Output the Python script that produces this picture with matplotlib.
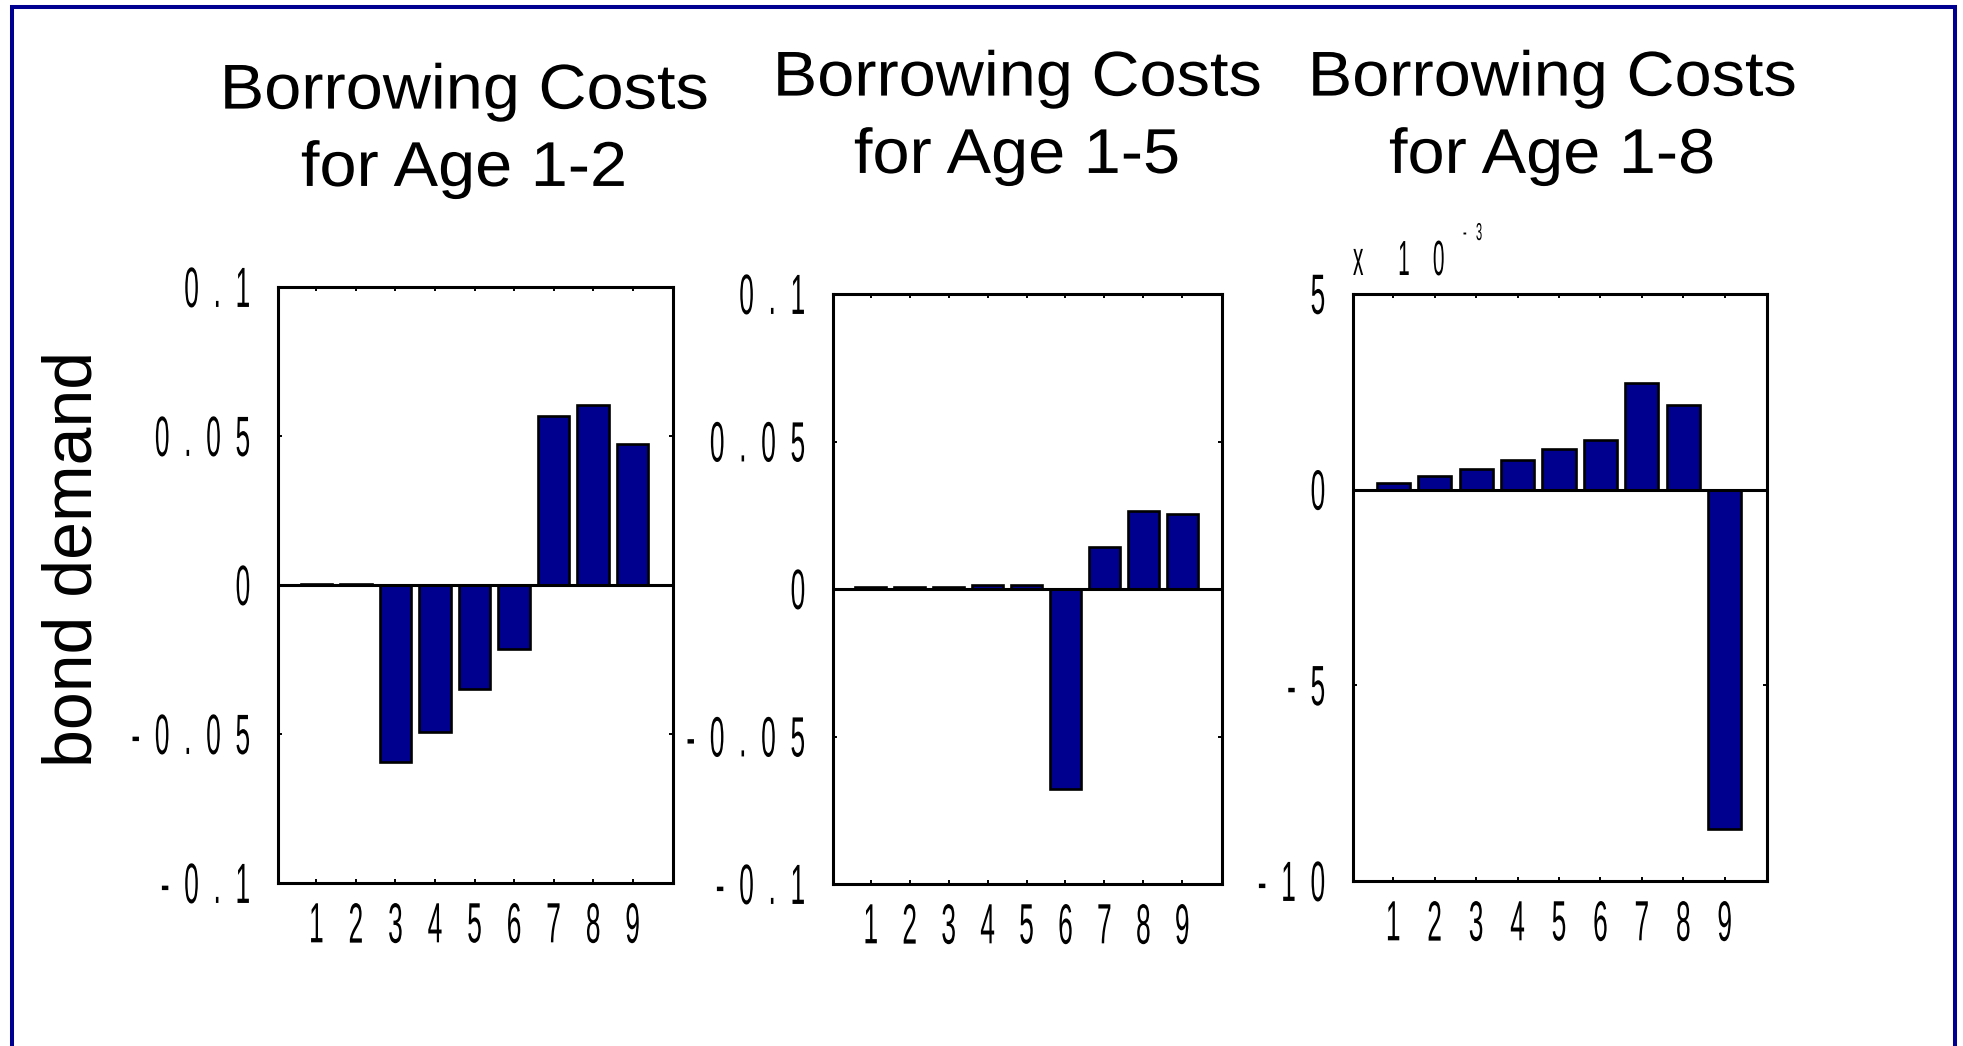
import matplotlib
matplotlib.use("Agg")
import matplotlib.pyplot as plt
from matplotlib.patches import Rectangle
from matplotlib.patheffects import AbstractPathEffect
from matplotlib.transforms import Affine2D

# bond demand response by age, one panel per borrowing-cost scenario
ages = [1, 2, 3, 4, 5, 6, 7, 8, 9]
age_labels = ["1", "2", "3", "4", "5", "6", "7", "8", "9"]

demand_age12 = [0.0002, 0.0002, -0.0595, -0.0493, -0.0349, -0.0215, 0.0567, 0.0604, 0.0473]
demand_age15 = [0.0007, 0.0007, 0.0007, 0.0015, 0.0015, -0.0678, 0.0142, 0.0264, 0.0254]
demand_age18 = [0.00017, 0.00035, 0.00053, 0.00076, 0.00104, 0.00127, 0.00273, 0.00217, -0.00868]

titles = ["Borrowing Costs\nfor Age 1-2",
          "Borrowing Costs\nfor Age 1-5",
          "Borrowing Costs\nfor Age 1-8"]

ticks_small = [-0.1, -0.05, 0, 0.05, 0.1]
ticks_small_labels = ["-  0  .  1", "-  0  .  0  5", "0", "0  .  0  5", "0  .  1"]
ticks_milli = [-0.01, -0.005, 0, 0.005]
ticks_milli_labels = ["-  1  0", "-  5", "0", "5"]

W, H = 1963, 1046
BAR_COLOR = "#00008F"
TICK_FS = 19
TICK_SY = 2.15


class Stretch(AbstractPathEffect):
    """Scale glyph outlines about an edge of the ink box (tall, narrow digits)."""

    def __init__(self, sx=1.0, sy=1.0, ha="center", va="center"):
        super().__init__()
        self.sx, self.sy = sx, sy
        self.ha, self.va = ha, va

    def draw_path(self, renderer, gc, tpath, affine, rgbFace=None):
        ext = tpath.get_extents()
        x0 = {"left": ext.x0, "center": 0.5 * (ext.x0 + ext.x1), "right": ext.x1}[self.ha]
        y0 = {"baseline": 0.0, "center": 0.5 * (ext.y0 + ext.y1), "top": ext.y1}[self.va]
        pre = Affine2D().translate(-x0, -y0).scale(self.sx, self.sy).translate(x0, y0)
        renderer.draw_path(gc, tpath, pre + affine, rgbFace)


def px_box(left, top, right, bottom):
    return [left / W, 1 - bottom / H, (right - left) / W, (bottom - top) / H]


def bar_panel(fig, box, values, ylim, yticks, ylabels):
    ax = fig.add_axes(box)
    ax.bar(ages, values, width=0.8, color=BAR_COLOR, edgecolor="black",
           linewidth=1.9, zorder=2)
    ax.axhline(0, color="black", linewidth=2.2, zorder=3)
    ax.set_xlim(0.03, 10.02)
    ax.set_ylim(*ylim)
    ax.set_xticks(ages, age_labels)
    ax.set_yticks(yticks, ylabels)
    ax.tick_params(direction="in", top=True, right=True, length=3, width=1.4,
                   labelsize=TICK_FS)
    ax.tick_params(axis="x", pad=14)
    ax.tick_params(axis="y", pad=20)
    for lbl in ax.get_xticklabels():
        lbl.set_path_effects([Stretch(sy=TICK_SY, ha="center", va="top")])
    for lbl in ax.get_yticklabels():
        lbl.set_path_effects([Stretch(sy=TICK_SY, ha="right", va="center")])
    for sp in ax.spines.values():
        sp.set_linewidth(2.2)
    return ax


def main():
    plt.rcParams["font.family"] = ["Liberation Sans", "DejaVu Sans"]
    fig = plt.figure(figsize=(W / 100, H / 100), dpi=100)

    bar_panel(fig, px_box(278, 287, 673, 883), demand_age12, (-0.1, 0.1),
              ticks_small, ticks_small_labels)
    bar_panel(fig, px_box(833, 294, 1222, 884), demand_age15, (-0.1, 0.1),
              ticks_small, ticks_small_labels)
    bar_panel(fig, px_box(1353, 294, 1767, 881), demand_age18, (-0.01, 0.005),
              ticks_milli, ticks_milli_labels)

    # scale factor for the third panel
    fig.text(1353 / W, 1 - 275 / H, "x      1    0", ha="left", va="baseline",
             fontsize=15, path_effects=[Stretch(sy=2.37, ha="left", va="baseline")])
    fig.text(1463 / W, 1 - 240 / H, "-   3", ha="left", va="baseline",
             fontsize=8, path_effects=[Stretch(sy=2.2, ha="left", va="baseline")])

    for (cx, top), title in zip([(464, 63), (1017, 50), (1552, 50)], titles):
        fig.text(cx / W, 1 - top / H, title, ha="center", va="top",
                 multialignment="center", fontsize=48, linespacing=1.32,
                 path_effects=[Stretch(sy=0.95, ha="center", va="top")])

    fig.text(74 / W, 1 - 559 / H, "bond demand", rotation=90, ha="center",
             va="center", fontsize=49)

    # frame around the whole slide, open at the bottom
    frame = Rectangle((12 / W, -0.1), (1954.5 - 12) / W, 1 - 7 / H + 0.1,
                      transform=fig.transFigure, fill=False,
                      edgecolor="#000090", linewidth=2.9)
    fig.add_artist(frame)

    fig.savefig("out.png", dpi=100)


if __name__ == "__main__":
    main()
